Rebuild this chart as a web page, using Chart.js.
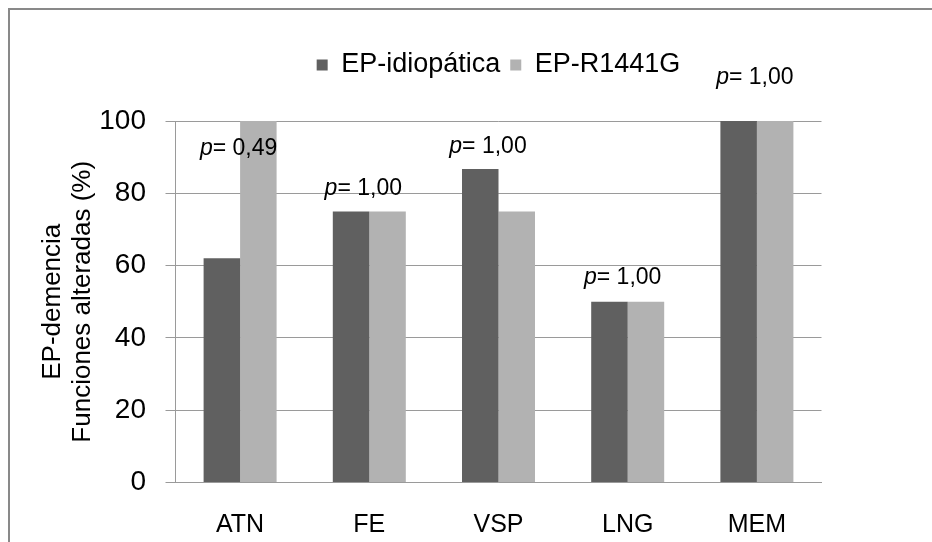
<!DOCTYPE html>
<html>
<head>
<meta charset="utf-8">
<script src="https://cdn.jsdelivr.net/npm/chart.js@4"></script>
<style>
  html, body { margin: 0; padding: 0; background: #fff; overflow: hidden; }
  #wrap { position: relative; width: 932px; height: 542px; overflow: hidden; }
  #frame { position: absolute; left: 8px; top: 8px; width: 1000px; height: 1000px;
           border-left: 2px solid #898989; border-top: 2px solid #898989; }
  canvas { position: absolute; left: 0; top: 0; }
</style>
</head>
<body>
<div id="wrap">
  <div id="frame"></div>
  <canvas id="chart" width="932" height="542"></canvas>
</div>
<script>
// ================= DATA =================
const categories = ['ATN', 'FE', 'VSP', 'LNG', 'MEM']
const idiopatica = [62, 75, 86.7, 50, 100]
const r1441g = [100, 75, 75, 50, 100]
const yTicks = [0, 20, 40, 60, 80, 100]
const pValues = ['0,49', '1,00', '1,00', '1,00', '1,00']
// where each p label sits, in y-axis units, and its nudge off the category centre
const pLabelY = [92.3, 81.3, 92.8, 56.6, 112]
const pLabelDx = [-1.5, -6, -10.5, -5, -2]

Chart.defaults.font.family = 'Arial, "Liberation Sans", sans-serif'
Chart.defaults.color = '#000'

// ================= P-VALUE LABELS =================
const pLabels = {
  id: 'pLabels',
  afterDatasetsDraw(chart) {
    const { ctx, scales: { x, y } } = chart
    ctx.save()
    ctx.fillStyle = '#000'
    ctx.textBaseline = 'middle'
    ctx.textAlign = 'left'
    pValues.forEach((v, i) => {
      const cx = x.getPixelForValue(i) + pLabelDx[i]
      const cy = y.getPixelForValue(pLabelY[i])
      ctx.font = 'italic 23px Arial, "Liberation Sans", sans-serif'
      const pw = ctx.measureText('p').width
      ctx.font = '23px Arial, "Liberation Sans", sans-serif'
      const rest = '= ' + v
      const rw = ctx.measureText(rest).width
      const left = cx - (pw + rw) / 2
      ctx.font = 'italic 23px Arial, "Liberation Sans", sans-serif'
      ctx.fillText('p', left, cy)
      ctx.font = '23px Arial, "Liberation Sans", sans-serif'
      ctx.fillText(rest, left + pw, cy)
    })
    ctx.restore()
  }
}

// ================= CHART =================
const gridColor = '#9a9a9a'

new Chart(document.getElementById('chart'), {
  type: 'bar',
  data: {
    labels: categories,
    datasets: [
      { label: 'EP-idiopática', data: idiopatica, backgroundColor: '#606060', borderWidth: 0 },
      { label: 'EP-R1441G', data: r1441g, backgroundColor: '#b2b2b2', borderWidth: 0 }
    ]
  },
  options: {
    responsive: false,
    animation: false,
    devicePixelRatio: 1,
    layout: { padding: { top: 41.5, right: 110.5, bottom: 0, left: 0 } },
    datasets: { bar: { categoryPercentage: 0.565, barPercentage: 1 } },
    plugins: {
      legend: {
        position: 'top',
        fullSize: false,
        labels: { boxWidth: 11, boxHeight: 11, padding: 10, color: '#000', font: { size: 27 } }
      },
      tooltip: { enabled: false }
    },
    scales: {
      x: {
        grid: { display: false },
        border: { display: true, color: gridColor },
        ticks: { padding: 20, font: { size: 25 }, color: '#000' },
        afterFit(s) { s.height = 59.5 }
      },
      gap: {
        type: 'category',
        position: 'top',
        grid: { display: false },
        border: { display: false },
        ticks: { display: false },
        afterFit(s) { s.height = 32.5 }
      },
      y: {
        min: 0,
        max: 100,
        afterBuildTicks(s) { s.ticks = yTicks.map(v => ({ value: v })) },
        ticks: { padding: 19.5, font: { size: 28 }, color: '#000' },
        grid: { color: gridColor, tickLength: 10 },
        border: { color: gridColor },
        title: {
          display: true,
          text: ['EP-demencia', 'Funciones alteradas (%)'],
          font: { size: 26, lineHeight: 1.154 },
          padding: { top: 37.5, bottom: 0 },
          color: '#000'
        },
        afterFit(s) { s.width = 175.5 }
      }
    }
  },
  plugins: [pLabels]
})
</script>
</body>
</html>
